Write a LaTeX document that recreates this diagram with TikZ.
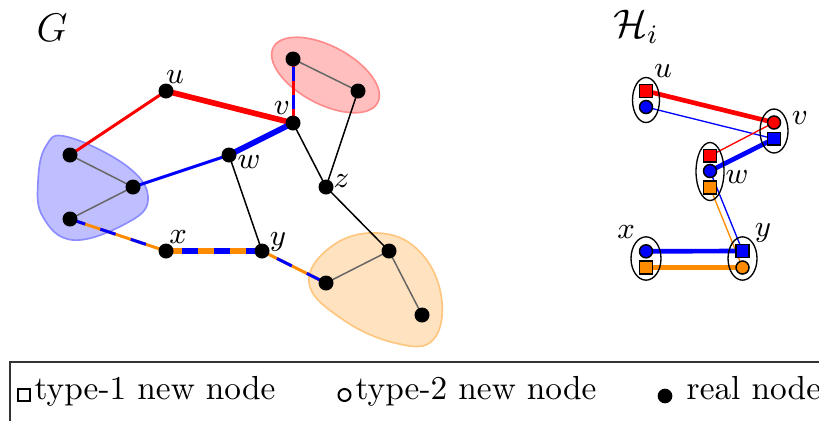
\documentclass[tikz,border=0pt]{standalone}
\usetikzlibrary{shapes.geometric,backgrounds}
\definecolor{myorange}{RGB}{255,140,0}
\begin{document}
\begin{tikzpicture}[x=0.3pt,y=-0.3pt,
  real/.style={circle,fill=black,inner sep=0pt,minimum size=4.5pt},
  sq/.style={rectangle,draw=black,line width=0.45pt,inner sep=0pt,minimum size=3.8pt},
  cir/.style={circle,draw=black,line width=0.45pt,inner sep=0pt,minimum size=3.9pt},
  grp/.style={ellipse,draw=black,line width=0.4pt,inner sep=0pt},
  lab/.style={inner sep=0pt,font=\fontsize{8.7}{10}\selectfont},
  title/.style={inner sep=0pt,font=\large},
  thinE/.style={line width=0.9pt},
  thickE/.style={line width=1.7pt},
  hthin/.style={line width=0.4pt},
  hthick/.style={line width=1.4pt},
  inE/.style={black!60,line width=0.45pt},
  plainE/.style={black,line width=0.45pt},
  bdash/.style={blue,dash pattern=on 4.8pt off 4.8pt,dash phase=4.8pt},
  legtext/.style={anchor=base west,inner sep=0pt,font=\normalsize},
]
\useasboundingbox (0,0) rectangle (819,421);

% ---------------- G ----------------
\node[title] (tG) at (52,28) {$G$};
\node[real] (u) at (166,91) {};
\node[real] (v) at (293,123) {};
\node[real] (w) at (229,155) {};
\node[real] (z) at (326,187) {};
\node[real] (x) at (166,251) {};
\node[real] (y) at (262,251) {};
\node[real] (r1) at (293,59) {};
\node[real] (r2) at (358,91) {};
\node[real] (b1) at (70,155) {};
\node[real] (b2) at (133,187) {};
\node[real] (b3) at (70,219) {};
\node[real] (o1) at (389,251) {};
\node[real] (o2) at (326,283) {};
\node[real] (o3) at (422,315) {};

\node[lab] (lu) at (175,77) {$u$};
\node[lab] (lv) at (282,108) {$v$};
\node[lab] (lw) at (249,162) {$w$};
\node[lab] (lz) at (341.5,181) {$z$};
\node[lab] (lx) at (178,237) {$x$};
\node[lab] (ly) at (278,242) {$y$};

\begin{scope}[on background layer]
  % blobs
  \draw[blue!45,fill=blue!25,line width=0.5pt] plot[smooth cycle,tension=0.7] coordinates
    {(68,137) (128,167) (148,200) (125,224) (73,240) (43,217) (38,182) (46,146)};
  \draw[red!45,fill=red!25,line width=0.5pt,rotate around={-28:(325.5,75)}]
    (325.5,75) ellipse [x radius=59, y radius=29];
  \draw[myorange!50,fill=myorange!25,line width=0.5pt] plot[smooth cycle,tension=0.7] coordinates
    {(309,283) (332,246) (377,233) (418,250) (441,295) (433,340) (395,343) (342,319)};
  % edges inside blobs
  \draw[inE] (b1.center) -- (b2.center) -- (b3.center);
  \draw[inE] (r1.center) -- (r2.center);
  \draw[inE] (o2.center) -- (o1.center) -- (o3.center);
  % other edges
  \draw[red,thinE] (b1.center) -- (u.center);
  \draw[red,thickE] (u.center) -- (v.center);
  \draw[red,thinE] (v.center) -- (r1.center);
  \draw[blue,thinE,dash pattern=on 4.2pt off 4.2pt,dash phase=4.2pt] (v.center) -- (r1.center);
  \draw[plainE] (r2.center) -- (z.center);
  \draw[plainE] (v.center) -- (z.center);
  \draw[blue,thickE] (v.center) -- (w.center);
  \draw[blue,thinE] (w.center) -- (b2.center);
  \draw[plainE] (w.center) -- (y.center);
  \draw[plainE] (z.center) -- (o1.center);
  \draw[myorange,thinE] (b3.center) -- (x.center);
  \draw[bdash,thinE,dash phase=0pt] (b3.center) -- (x.center);
  \draw[myorange,thickE] (x.center) -- (y.center);
  \draw[bdash,thickE] (x.center) -- (y.center);
  \draw[myorange,thinE] (y.center) -- (o2.center);
  \draw[bdash,thinE,dash pattern=on 5pt off 5pt,dash phase=5pt] (y.center) -- (o2.center);
\end{scope}

% ---------------- H_i ----------------
\node[title] (tH) at (636,27) {$\mathcal{H}_i$};

\node[grp,minimum width=8.1pt,minimum height=13.5pt] (Eu) at (646,100) {};
\node[grp,minimum width=8.4pt,minimum height=13.2pt] (Ev) at (774,131) {};
\node[grp,minimum width=8.4pt,minimum height=17.4pt] (Ew) at (710,171.5) {};
\node[grp,minimum width=9pt,minimum height=13pt] (Ex) at (646,258.5) {};
\node[grp,minimum width=8.7pt,minimum height=13pt] (Ey) at (742.5,258.5) {};

\node[sq,fill=red] (Hu1) at (646,91) {};
\node[cir,fill=blue] (Hu2) at (646,107) {};
\node[cir,fill=red] (Hv1) at (774,122.5) {};
\node[sq,fill=blue] (Hv2) at (774,138.8) {};
\node[sq,fill=red] (Hw1) at (710,155.8) {};
\node[cir,fill=blue] (Hw2) at (710,171) {};
\node[sq,fill=myorange] (Hw3) at (710,187.5) {};
\node[cir,fill=blue] (Hx1) at (646,251.3) {};
\node[sq,fill=myorange] (Hx2) at (646,267.5) {};
\node[sq,fill=blue] (Hy1) at (742.5,251) {};
\node[cir,fill=myorange] (Hy2) at (742.5,267.5) {};

\node[lab] (lHu) at (663,71.5) {$u$};
\node[lab] (lHv) at (800,118.5) {$v$};
\node[lab] (lHw) at (737,177.5) {$w$};
\node[lab] (lHx) at (626,232.5) {$x$};
\node[lab] (lHy) at (763,233) {$y$};

\begin{scope}[on background layer]
  \draw[red,hthick] (Hu1.center) -- (Hv1.center);
  \draw[blue,hthin] (Hu2.center) -- (Hv2.center);
  \draw[red,hthin] (Hv1.center) -- (Hw1.center);
  \draw[blue,hthick] (Hv2.center) -- (Hw2.center);
  \draw[blue,hthin] (Hw2.center) -- (Hy1.center);
  \draw[myorange,hthin] (Hw3.center) -- (Hy2.center);
  \draw[blue,hthick] (Hx1.center) -- (Hy1.center);
  \draw[myorange,hthick] (Hx2.center) -- (Hy2.center);
\end{scope}

% ---------------- legend ----------------
\coordinate (Lb) at (10,421);
\coordinate (Lc) at (10,362);
\coordinate (Lr) at (819,362);
\draw[black!80,line width=0.4pt] (Lb) -- (Lc) -- (Lr);
\node[rectangle,draw=black,line width=0.6pt,inner sep=0pt,minimum size=3.6pt] (k1) at (24,395) {};
\node[legtext] (t1) at (34,399) {type-1 new node};
\node[circle,draw=black,line width=0.6pt,inner sep=0pt,minimum size=3.6pt] (k2) at (344.5,395) {};
\node[legtext] (t2) at (355,399) {type-2 new node};
\node[circle,fill=black,inner sep=0pt,minimum size=4.4pt] (k3) at (665,396) {};
\node[legtext] (t3) at (686,399) {real node};
\end{tikzpicture}
\end{document}
